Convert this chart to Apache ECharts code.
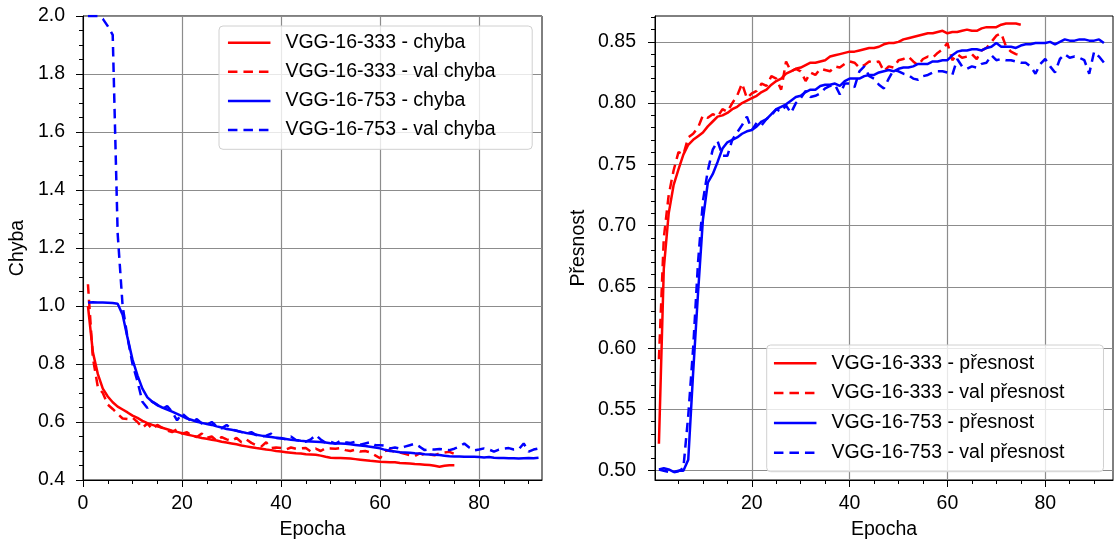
<!DOCTYPE html>
<html lang="cs">
<head>
<meta charset="UTF-8">
<title>Chyba a přesnost</title>
<script src="https://cdn.jsdelivr.net/npm/echarts@6/dist/echarts.min.js"></script>
<style>html,body{margin:0;padding:0;background:#fff;}</style>
</head>
<body>
<div id="main" style="width:1114px;height:545px;"></div>
<script>
// epochs start at 1
var lossNames = ['VGG-16-333 - chyba', 'VGG-16-333 - val chyba', 'VGG-16-753 - chyba', 'VGG-16-753 - val chyba'];
var accNames = ['VGG-16-333 - přesnost', 'VGG-16-333 - val přesnost', 'VGG-16-753 - přesnost', 'VGG-16-753 - val přesnost'];

var loss333 = [1.00, 0.84, 0.765, 0.715, 0.688, 0.668, 0.653, 0.643, 0.633, 0.622,
  0.614, 0.604, 0.596, 0.59, 0.585, 0.58, 0.575, 0.57, 0.566, 0.561,
  0.557, 0.553, 0.549, 0.545, 0.542, 0.539, 0.536, 0.532, 0.529, 0.526,
  0.523, 0.519, 0.516, 0.513, 0.51, 0.508, 0.505, 0.503, 0.50, 0.498,
  0.496, 0.494, 0.492, 0.491, 0.489, 0.488, 0.487, 0.484, 0.48, 0.477,
  0.476, 0.476, 0.475, 0.474, 0.472, 0.47, 0.468, 0.466, 0.465, 0.463,
  0.462, 0.461, 0.461, 0.459, 0.458, 0.457, 0.455, 0.454, 0.453, 0.452,
  0.449, 0.446, 0.449, 0.451, 0.451];
var valLoss333 = [1.075, 0.82, 0.72, 0.70, 0.66, 0.645, 0.628, 0.612, 0.61, 0.615,
  0.60, 0.58, 0.595, 0.575, 0.59, 0.58, 0.57, 0.565, 0.575, 0.56,
  0.565, 0.552, 0.548, 0.56, 0.545, 0.55, 0.535, 0.548, 0.54, 0.535,
  0.545, 0.53, 0.54, 0.528, 0.52, 0.515, 0.53, 0.51, 0.512, 0.51,
  0.505, 0.512, 0.508, 0.509, 0.51, 0.498, 0.508, 0.50, 0.51, 0.509,
  0.508, 0.51, 0.503, 0.50, 0.505, 0.498, 0.50, 0.495, 0.485, 0.475,
  0.50, 0.503, 0.497, 0.495, 0.49, 0.486, 0.483, 0.492, 0.486, 0.488,
  0.485, 0.492, 0.495, 0.497, 0.49];
var loss753 = [1.012, 1.013, 1.012, 1.012, 1.011, 1.01, 1.008, 0.97, 0.89, 0.815,
  0.761, 0.715, 0.685, 0.67, 0.658, 0.65, 0.643, 0.636, 0.628, 0.62,
  0.612, 0.607, 0.601, 0.597, 0.593, 0.59, 0.585, 0.581, 0.576, 0.573,
  0.57, 0.566, 0.562, 0.559, 0.556, 0.553, 0.55, 0.548, 0.546, 0.543,
  0.541, 0.539, 0.537, 0.535, 0.534, 0.533, 0.532, 0.531, 0.529, 0.527,
  0.526, 0.526, 0.525, 0.523, 0.521, 0.519, 0.517, 0.515, 0.512, 0.509,
  0.504, 0.50, 0.498, 0.496, 0.495, 0.494, 0.492, 0.491, 0.489, 0.488,
  0.487, 0.486, 0.484, 0.482, 0.481, 0.481, 0.48, 0.48, 0.48, 0.479,
  0.478, 0.479, 0.477, 0.476, 0.476, 0.475, 0.475, 0.474, 0.475, 0.476,
  0.475, 0.477];
var valLoss753 = [2.0, 2.0, 2.0, 1.99, 1.965, 1.935, 1.25, 1.0, 0.89, 0.80,
  0.74, 0.67, 0.648, 0.67, 0.66, 0.645, 0.655, 0.635, 0.606, 0.63,
  0.615, 0.60, 0.61, 0.595, 0.59, 0.60, 0.585, 0.578, 0.59, 0.575,
  0.57, 0.565, 0.56, 0.565, 0.555, 0.55, 0.553, 0.56, 0.545, 0.545,
  0.54, 0.55, 0.538, 0.535, 0.532, 0.54, 0.555, 0.54, 0.528, 0.532,
  0.525, 0.535, 0.53, 0.528, 0.532, 0.522, 0.526, 0.53, 0.52, 0.52,
  0.518, 0.509, 0.512, 0.508, 0.515, 0.52, 0.525, 0.515, 0.503, 0.506,
  0.505, 0.507, 0.505, 0.503, 0.508, 0.515, 0.526, 0.512, 0.502, 0.505,
  0.509, 0.505, 0.498, 0.505, 0.508, 0.51, 0.505, 0.506, 0.526, 0.498,
  0.505, 0.509];

var acc333 = [0.522, 0.665, 0.71, 0.733, 0.746, 0.758, 0.766, 0.77, 0.773, 0.776,
  0.781, 0.785, 0.789, 0.79, 0.792, 0.795, 0.797, 0.80, 0.802, 0.804,
  0.806, 0.809, 0.811, 0.815, 0.818, 0.82, 0.824, 0.826, 0.828, 0.829,
  0.831, 0.833, 0.833, 0.834, 0.835, 0.838, 0.839, 0.84, 0.841, 0.842,
  0.842, 0.843, 0.844, 0.845, 0.845, 0.846, 0.848, 0.849, 0.849, 0.85,
  0.852, 0.853, 0.854, 0.855, 0.856, 0.857, 0.857, 0.858, 0.859, 0.857,
  0.858, 0.858, 0.859, 0.86, 0.859, 0.859, 0.861, 0.862, 0.862, 0.862,
  0.864, 0.865, 0.865, 0.865, 0.864];
var valAcc333 = [0.591, 0.69, 0.725, 0.745, 0.76, 0.758, 0.772, 0.775, 0.78, 0.79,
  0.788, 0.791, 0.789, 0.795, 0.793, 0.80, 0.806, 0.816, 0.804, 0.808,
  0.81, 0.816, 0.814, 0.822, 0.82, 0.811, 0.834, 0.826, 0.828, 0.826,
  0.818, 0.825, 0.823, 0.828, 0.827, 0.826, 0.83, 0.829, 0.832, 0.834,
  0.833, 0.829, 0.831, 0.834, 0.833, 0.834, 0.826, 0.83, 0.829, 0.835,
  0.836, 0.838, 0.834, 0.831, 0.836, 0.838, 0.837, 0.841, 0.844, 0.849,
  0.835, 0.84, 0.837, 0.838, 0.84, 0.836, 0.843, 0.845, 0.85, 0.855,
  0.857, 0.846, 0.842, 0.84, 0.839];
var acc753 = [0.501, 0.502, 0.501, 0.499, 0.50, 0.50, 0.509, 0.58, 0.645, 0.705,
  0.735, 0.742, 0.752, 0.763, 0.768, 0.77, 0.772, 0.775, 0.777, 0.778,
  0.781, 0.785, 0.787, 0.791, 0.795, 0.797, 0.799, 0.802, 0.805, 0.806,
  0.809, 0.811, 0.811, 0.814, 0.815, 0.815, 0.816, 0.814, 0.818, 0.82,
  0.82, 0.82, 0.822, 0.823, 0.823, 0.825, 0.826, 0.827, 0.826, 0.828,
  0.829, 0.829, 0.83, 0.832, 0.832, 0.832, 0.834, 0.834, 0.835, 0.835,
  0.839, 0.842, 0.843, 0.843, 0.844, 0.844, 0.843, 0.845, 0.846, 0.849,
  0.846, 0.846, 0.846, 0.845, 0.847, 0.848, 0.848, 0.849, 0.849, 0.849,
  0.85, 0.848, 0.85, 0.852, 0.851, 0.851, 0.852, 0.852, 0.851, 0.851,
  0.852, 0.849];
var valAcc753 = [0.501, 0.50, 0.499, 0.4985, 0.4995, 0.502, 0.545, 0.60, 0.67, 0.72,
  0.745, 0.762, 0.769, 0.757, 0.757, 0.77, 0.776, 0.782, 0.789, 0.778,
  0.784, 0.782, 0.787, 0.79, 0.795, 0.793, 0.798, 0.792, 0.80, 0.804,
  0.81, 0.805, 0.806, 0.808, 0.812, 0.814, 0.815, 0.807, 0.816, 0.816,
  0.813, 0.826, 0.83, 0.822, 0.82, 0.815, 0.812, 0.82, 0.827, 0.826,
  0.824, 0.823, 0.82, 0.819, 0.822, 0.823, 0.825, 0.826, 0.826, 0.825,
  0.823, 0.836, 0.83, 0.828, 0.83, 0.829, 0.832, 0.833, 0.839, 0.835,
  0.836, 0.835, 0.835, 0.834, 0.833, 0.833, 0.83, 0.824, 0.832, 0.836,
  0.83, 0.825, 0.836, 0.84, 0.837, 0.838, 0.837, 0.835, 0.824, 0.842,
  0.838, 0.833];

// tick labels
var lossTicks = [0.4, 0.6, 0.8, 1.0, 1.2, 1.4, 1.6, 1.8, 2.0];
var accTicks = [0.50, 0.55, 0.60, 0.65, 0.70, 0.75, 0.80, 0.85];
var lossEpochTicks = [0, 20, 40, 60, 80];
var accEpochTicks = [20, 40, 60, 80];

var FONT = 'Liberation Sans';
var RED = '#ff0000', BLUE = '#0000ff';
var DASH = [9.5, 6];

function withEpochs(arr) {
  return arr.map(function (v, i) { return [i + 1, v]; });
}

function minorValues(from, to, step) {
  var out = [];
  for (var v = from; v <= to + 1e-9; v += step) out.push(Math.round(v * 1000) / 1000);
  return out;
}

function mainAxis(grid, min, max, ticks, digits, margin, extra) {
  var ax = {
    type: 'value', gridIndex: grid, min: min, max: max,
    axisLine: { show: true, onZero: false, lineStyle: { color: '#000', width: 1 } },
    axisTick: { show: true, length: 7, customValues: ticks, lineStyle: { color: '#000', width: 1 } },
    axisLabel: {
      customValues: ticks, fontFamily: FONT, fontSize: 19.5, color: '#000', margin: margin,
      formatter: function (v) { return v.toFixed(digits); }
    },
    splitLine: { show: true, lineStyle: { color: '#8c8c8c', width: 1.2 } },
    nameLocation: 'middle',
    nameTextStyle: { fontFamily: FONT, fontSize: 19.5, color: '#000' }
  };
  for (var k in extra) ax[k] = extra[k];
  return ax;
}

function minorAxis(grid, min, max, vals, pos) {
  return {
    type: 'value', gridIndex: grid, min: min, max: max, position: pos,
    axisLine: { show: false, onZero: false },
    axisTick: { show: true, length: 4, customValues: vals, lineStyle: { color: '#000', width: 1 } },
    axisLabel: { show: false },
    splitLine: { show: false }
  };
}

function lineSeries(name, data, color, dashed, xi, yi) {
  return {
    name: name, type: 'line', xAxisIndex: xi, yAxisIndex: yi,
    data: withEpochs(data), symbol: 'none', showSymbol: false,
    lineStyle: { color: color, width: 2.5, type: dashed ? DASH : 'solid' },
    itemStyle: { color: color },
    emphasis: { disabled: true }
  };
}

function legendBox(left, top, data, pad, gap) {
  return {
    orient: 'vertical', left: left, top: top, data: data,
    itemWidth: 42.5, itemHeight: 14, itemGap: gap,
    padding: pad,
    backgroundColor: 'rgba(255,255,255,0.8)',
    borderColor: '#d0d0d0', borderWidth: 1, borderRadius: 4,
    itemStyle: { opacity: 0, borderWidth: 0 },
    lineStyle: { width: 2.5 },
    textStyle: { fontFamily: FONT, fontSize: 19.5, color: '#000', lineHeight: 20, padding: [0, 0, 0, 10] },
    selectedMode: false
  };
}

var chart = echarts.init(document.getElementById('main'), null, { renderer: 'canvas' });

var option = {
  animation: false,
  backgroundColor: '#fff',
  grid: [
    { left: 83, top: 16, width: 459, height: 466, show: true, borderColor: '#000', borderWidth: 1, backgroundColor: 'transparent' },
    { left: 655, top: 16, width: 458, height: 466, show: true, borderColor: '#000', borderWidth: 1, backgroundColor: 'transparent' }
  ],
  xAxis: [
    mainAxis(0, 0, 92.7, lossEpochTicks, 0, 14, { interval: 20, position: 'bottom', name: 'Epocha', nameGap: 40 }),
    minorAxis(0, 0, 92.7, minorValues(0, 90, 5), 'bottom'),
    mainAxis(1, 0.2, 93.86, accEpochTicks, 0, 14, { splitNumber: 5, position: 'bottom', name: 'Epocha', nameGap: 40 }),
    minorAxis(1, 0.2, 93.86, minorValues(5, 90, 5), 'bottom')
  ],
  yAxis: [
    mainAxis(0, 0.4, 2.0, lossTicks, 1, 18, { interval: 0.2, position: 'left', name: 'Chyba', nameGap: 55 }),
    minorAxis(0, 0.4, 2.0, minorValues(0.4, 2.0, 0.05), 'left'),
    mainAxis(1, 0.4924, 0.8711, accTicks, 2, 19, { splitNumber: 8, position: 'left', name: 'Přesnost', nameGap: 66 }),
    minorAxis(1, 0.4924, 0.8711, minorValues(0.5, 0.87, 0.01), 'left')
  ],
  legend: [
    legendBox(219, 26, lossNames, [6.7, 36.5, 9.3, 7.7], 9.1),
    legendBox(766.7, 345, accNames, [8.3, 39, 9, 6], 9.8)
  ],
  series: [
    lineSeries(lossNames[0], loss333, RED, false, 0, 0),
    lineSeries(lossNames[1], valLoss333, RED, true, 0, 0),
    lineSeries(lossNames[2], loss753, BLUE, false, 0, 0),
    lineSeries(lossNames[3], valLoss753, BLUE, true, 0, 0),
    lineSeries(accNames[0], acc333, RED, false, 2, 2),
    lineSeries(accNames[1], valAcc333, RED, true, 2, 2),
    lineSeries(accNames[2], acc753, BLUE, false, 2, 2),
    lineSeries(accNames[3], valAcc753, BLUE, true, 2, 2)
  ]
};

chart.setOption(option);
</script>
</body>
</html>
